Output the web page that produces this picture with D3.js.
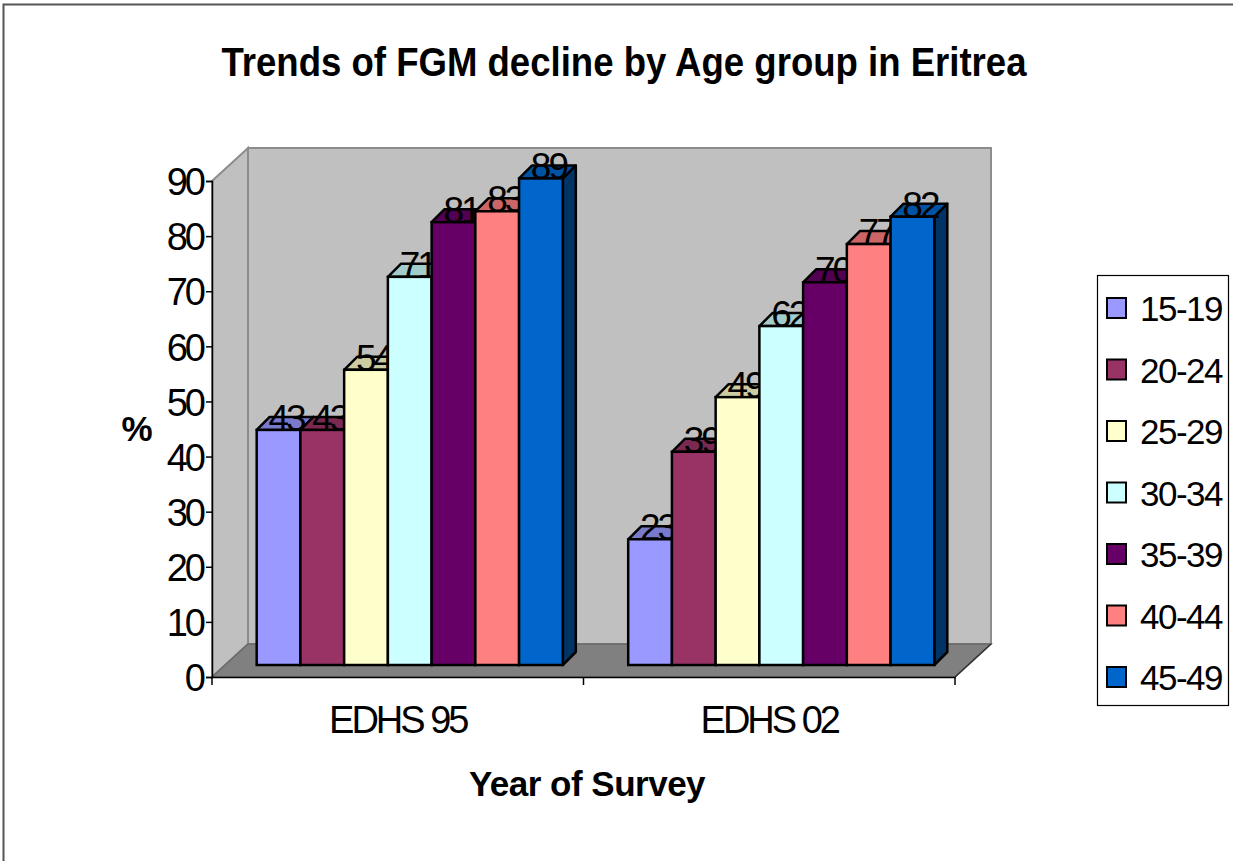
<!DOCTYPE html>
<html>
<head>
<meta charset="utf-8">
<script src="https://cdn.jsdelivr.net/npm/d3@7"></script>
<style>
  html, body { margin: 0; padding: 0; background: #ffffff; }
  svg { display: block; font-family: "Liberation Sans", Arial, sans-serif; }
</style>
</head>
<body>
<script>
// Survey rounds (categories) and age groups (series)
const categories = ["EDHS 95", "EDHS 02"];
const ageGroups = ["15-19", "20-24", "25-29", "30-34", "35-39", "40-44", "45-49"];

// Prevalence of FGM (%) per age group, one array per survey
const edhs95 = [43, 43, 54, 71, 81, 83, 89];
const edhs02 = [23, 39, 49, 62, 70, 77, 82];

const yTicks = [0, 10, 20, 30, 40, 50, 60, 70, 80, 90];
const seriesColors = ["#9999FF", "#993366", "#FFFFCC", "#CCFFFF", "#660066", "#FF8080", "#0066CC"];

const valuesByCategory = [edhs95, edhs02];

const W = 1233, H = 861;
const svg = d3.select("body").append("svg").attr("width", W).attr("height", H);

// outer frame
svg.append("rect")
  .attr("x", 3.5).attr("y", 4.5).attr("width", W + 20).attr("height", H + 20)
  .attr("fill", "none").attr("stroke", "#555").attr("stroke-width", 2);

// 3-D box geometry: front plane plus an oblique depth offset
const plot = { left: 212, right: 955 };
const DX = 36, DY = -33;          // wall depth
const BAR_OFF = 12;               // bars sit a little behind the front plane
const BAR_DEPTH = 13;             // thickness of each bar

const yAxisScale = d3.scaleLinear().domain([0, 90]).range([677, 181]);
const yBar = d3.scaleLinear().domain([0, 90]).range([665, 173]);

const xBand = d3.scaleBand().domain(categories)
  .range([plot.left, plot.right]).paddingInner(0.176).paddingOuter(0.088);
const xSeries = d3.scaleBand().domain(ageGroups).range([0, xBand.bandwidth()]).padding(0);
const color = d3.scaleOrdinal().domain(ageGroups).range(seriesColors);

const y0 = yAxisScale(0), yTop = yAxisScale(90);
const line = d3.line();

// back wall
svg.append("path")
  .attr("d", line([[plot.left + DX, yTop + DY], [plot.right + DX, yTop + DY],
                   [plot.right + DX, y0 + DY], [plot.left + DX, y0 + DY]]) + "Z")
  .attr("fill", "#C0C0C0").attr("stroke", "#8c8c8c").attr("stroke-width", 2);

// left side wall
svg.append("path")
  .attr("d", line([[plot.left, yTop], [plot.left + DX, yTop + DY],
                   [plot.left + DX, y0 + DY], [plot.left, y0]]) + "Z")
  .attr("fill", "#C0C0C0").attr("stroke", "#8c8c8c").attr("stroke-width", 2);

// floor
svg.append("path")
  .attr("d", line([[plot.left, y0], [plot.right, y0],
                   [plot.right + DX, y0 + DY], [plot.left + DX, y0 + DY]]) + "Z")
  .attr("fill", "#808080").attr("stroke", "#6a6a6a").attr("stroke-width", 1.5);
svg.append("line")
  .attr("x1", plot.right).attr("y1", y0).attr("x2", plot.right + DX).attr("y2", y0 + DY)
  .attr("stroke", "#333").attr("stroke-width", 1.5);

// y axis
const yAxisG = svg.append("g").attr("transform", `translate(${plot.left},0)`)
  .call(d3.axisLeft(yAxisScale).tickValues(yTicks).tickSize(6).tickPadding(6));
yAxisG.select(".domain").attr("stroke", "#000").attr("stroke-width", 1.5);
yAxisG.selectAll(".tick line").attr("stroke", "#000").attr("stroke-width", 1.5);
yAxisG.selectAll(".tick text")
  .attr("font-size", 38).attr("letter-spacing", -3).attr("fill", "#000")
  .attr("font-family", "'Liberation Sans', Arial, sans-serif")
  .attr("x", -9).attr("dy", "0.36em");

// x axis: category labels at band centres, tick marks at band boundaries
const xAxisG = svg.append("g").attr("transform", `translate(0,${y0})`)
  .call(d3.axisBottom(xBand).tickSize(0).tickPadding(0));
xAxisG.select(".domain").attr("stroke", "#000").attr("stroke-width", 1.5);
xAxisG.selectAll(".tick text")
  .attr("font-size", 38).attr("letter-spacing", -3).attr("fill", "#000")
  .attr("font-family", "'Liberation Sans', Arial, sans-serif")
  .attr("y", 56).attr("dy", 0);
const boundaries = d3.range(categories.length + 1).map(i => plot.left + i * xBand.step());
xAxisG.selectAll(".bound").data(boundaries).join("line")
  .attr("class", "bound")
  .attr("x1", d => d).attr("x2", d => d).attr("y1", 0).attr("y2", 8)
  .attr("stroke", "#000").attr("stroke-width", 1.5);

// bars
const bars = [];
categories.forEach((cat, ci) => {
  ageGroups.forEach((age, si) => {
    const v = valuesByCategory[ci][si];
    const x0 = xBand(cat) + xSeries(age) + BAR_OFF;
    const x1 = x0 + xSeries.bandwidth();
    bars.push({ cat, age, v, x0, x1, yt: yBar(v), yb: yBar(0), c: d3.color(color(age)) });
  });
});
const d = BAR_DEPTH;
const shade = (c, k) => d3.rgb(c.r * k, c.g * k, c.b * k).toString();

const barG = svg.append("g");
bars.forEach(b => {
  barG.append("path")
    .attr("d", line([[b.x1, b.yt], [b.x1 + d, b.yt - d], [b.x1 + d, b.yb - d], [b.x1, b.yb]]) + "Z")
    .attr("fill", shade(b.c, 0.5)).attr("stroke", "#000").attr("stroke-width", 2.5)
    .attr("stroke-linejoin", "round");
  barG.append("path")
    .attr("d", line([[b.x0, b.yt], [b.x1, b.yt], [b.x1 + d, b.yt - d], [b.x0 + d, b.yt - d]]) + "Z")
    .attr("fill", shade(b.c, 0.8)).attr("stroke", "#000").attr("stroke-width", 2.5)
    .attr("stroke-linejoin", "round");
});

// value labels on the bar tops
svg.append("g").selectAll("text").data(bars).join("text")
  .attr("x", b => (b.x0 + b.x1) / 2 + d / 2 + 1)
  .attr("y", b => b.yt + 1)
  .attr("text-anchor", "middle")
  .attr("font-size", 37).attr("letter-spacing", -3)
  .attr("fill", "#000")
  .text(b => b.v);

// front faces
svg.append("g").selectAll("rect").data(bars).join("rect")
  .attr("x", b => b.x0).attr("y", b => b.yt)
  .attr("width", b => b.x1 - b.x0).attr("height", b => b.yb - b.yt)
  .attr("fill", b => b.c.toString())
  .attr("stroke", "#000").attr("stroke-width", 2.5);

// titles
svg.append("text")
  .attr("x", 624).attr("y", 76).attr("text-anchor", "middle")
  .attr("font-size", 40).attr("font-weight", "bold")
  .attr("textLength", 805).attr("lengthAdjust", "spacingAndGlyphs")
  .attr("fill", "#000")
  .text("Trends of FGM decline by Age group in Eritrea");

svg.append("text")
  .attr("x", 137).attr("y", 441).attr("text-anchor", "middle")
  .attr("font-size", 35).attr("font-weight", "bold").attr("fill", "#000")
  .text("%");

svg.append("text")
  .attr("x", 587).attr("y", 796).attr("text-anchor", "middle")
  .attr("font-size", 35).attr("font-weight", "bold").attr("letter-spacing", -0.5)
  .attr("fill", "#000")
  .text("Year of Survey");

// legend
const legend = svg.append("g");
legend.append("rect")
  .attr("x", 1097.5).attr("y", 275.5).attr("width", 131).attr("height", 430)
  .attr("fill", "#fff").attr("stroke", "#000").attr("stroke-width", 1.2);
const legendRow = d3.scalePoint().domain(ageGroups).range([308, 677]);
const items = legend.selectAll("g.item").data(ageGroups).join("g")
  .attr("class", "item")
  .attr("transform", a => `translate(0,${legendRow(a)})`);
items.append("rect")
  .attr("x", 1107).attr("y", -10).attr("width", 19).attr("height", 20)
  .attr("fill", a => color(a)).attr("stroke", "#000").attr("stroke-width", 2);
items.append("text")
  .attr("x", 1140).attr("y", 13)
  .attr("font-size", 35).attr("letter-spacing", -1.5).attr("fill", "#000")
  .text(a => a);
</script>
</body>
</html>
